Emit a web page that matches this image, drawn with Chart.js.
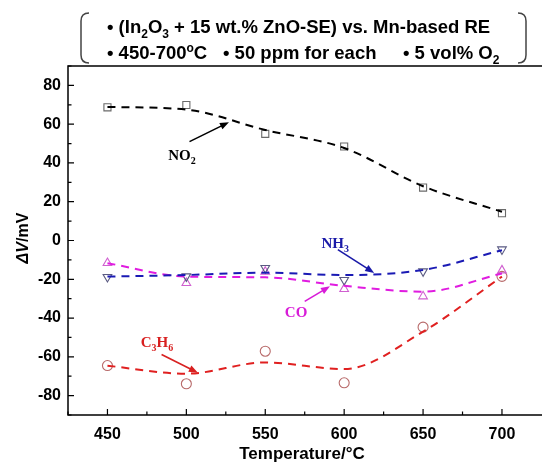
<!DOCTYPE html>
<html>
<head>
<meta charset="utf-8">
<script src="https://cdn.jsdelivr.net/npm/chart.js@4/dist/chart.umd.min.js"></script>
<style>
  html, body { margin: 0; padding: 0; background: #fff; }
</style>
</head>
<body>
<canvas id="chart" width="542" height="467"></canvas>
<script>
// measured points
const temps = [450, 500, 550, 600, 650, 700];
const no2Pts = [68.7, 69.9, 55.0, 48.5, 27.3, 14.1];
const nh3Pts = [-18.8, -18.5, -14.2, -20.4, -15.9, -4.6];
const coPts = [-11.6, -21.9, -16.1, -25.0, -28.8, -15.4];
const c3h6Pts = [-64.5, -73.9, -57.1, -73.4, -44.7, -18.5];

// dashed fit curves at each temperature
const no2Fit = [68.9, 67.5, 57.0, 47.7, 28.0, 14.8];
const nh3Fit = [-18.6, -17.8, -16.6, -17.8, -15.2, -5.0];
const coFit = [-11.7, -18.6, -19.0, -23.4, -26.4, -17.0];
const c3h6Fit = [-64.6, -68.7, -62.9, -66.3, -47.0, -18.6];

const xTicks = [450, 500, 550, 600, 650, 700];
const xMinor = [425, 475, 525, 575, 625, 675];
const yTicks = [-80, -60, -40, -20, 0, 20, 40, 60, 80];
const yMinor = [-90, -70, -50, -30, -10, 10, 30, 50, 70, 90];

// arrow labels, in data coordinates
const notes = [
  { parts: [['NO', 'n'], ['2', 'sub']], color: '#000000', text: [488.5, 41.6], from: [502, 51], to: [527, 61] },
  { parts: [['NH', 'n'], ['3', 'sub']], color: '#1a1aa8', text: [585.6, -3.7], from: [596, -4.7], to: [619, -16.7] },
  { parts: [['CO', 'n']], color: '#d81cd8', text: [562.4, -39.2], from: [575, -31.4], to: [591, -23.6] },
  { parts: [['C', 'n'], ['3', 'sub'], ['H', 'n'], ['6', 'sub']], color: '#d82020', text: [471.1, -54.7], from: [484.3, -58.8], to: [507.3, -68.2] },
];

const pts = (ys) => temps.map((x, i) => ({ x: x, y: ys[i] }));

function richText(ctx, parts, x, y, size, family, weight) {
  let cx = x;
  for (const [t, m] of parts) {
    const s = m === 'n' ? size : Math.round(size * 0.66);
    ctx.font = weight + ' ' + s + 'px ' + family;
    const dy = m === 'sub' ? size * 0.28 : (m === 'sup' ? -size * 0.38 : 0);
    ctx.fillText(t, cx, y + dy);
    cx += ctx.measureText(t).width;
  }
  return cx;
}

const framePlugin = {
  id: 'frame',
  beforeDraw(chart) {
    const ctx = chart.ctx;
    ctx.save();
    ctx.fillStyle = '#fff';
    ctx.fillRect(0, 0, chart.width, chart.height);
    ctx.restore();
  },
  afterDatasetsDraw(chart) {
    const { ctx, chartArea: a, scales: { x, y } } = chart;
    ctx.save();
    ctx.strokeStyle = '#000';
    ctx.lineWidth = 1.5;
    ctx.beginPath();
    ctx.moveTo(chart.width, a.top); ctx.lineTo(a.left, a.top);
    ctx.lineTo(a.left, a.bottom); ctx.lineTo(chart.width, a.bottom);
    ctx.stroke();
    ctx.lineWidth = 1.2;
    ctx.beginPath();
    xTicks.forEach(v => { const px = x.getPixelForValue(v); ctx.moveTo(px, a.bottom); ctx.lineTo(px, a.bottom - 6); });
    xMinor.forEach(v => { const px = x.getPixelForValue(v); ctx.moveTo(px, a.bottom); ctx.lineTo(px, a.bottom - 3.5); });
    yTicks.forEach(v => { const py = y.getPixelForValue(v); ctx.moveTo(a.left, py); ctx.lineTo(a.left + 6, py); });
    yMinor.forEach(v => { const py = y.getPixelForValue(v); ctx.moveTo(a.left, py); ctx.lineTo(a.left + 3.5, py); });
    ctx.stroke();

    // arrows and labels
    notes.forEach(n => {
      const x0 = x.getPixelForValue(n.from[0]), y0 = y.getPixelForValue(n.from[1]);
      const x1 = x.getPixelForValue(n.to[0]), y1 = y.getPixelForValue(n.to[1]);
      const ang = Math.atan2(y1 - y0, x1 - x0);
      ctx.strokeStyle = n.color;
      ctx.fillStyle = n.color;
      ctx.lineWidth = 1.6;
      ctx.beginPath();
      ctx.moveTo(x0, y0);
      ctx.lineTo(x1 - 6 * Math.cos(ang), y1 - 6 * Math.sin(ang));
      ctx.stroke();
      ctx.beginPath();
      ctx.moveTo(x1, y1);
      ctx.lineTo(x1 - 9 * Math.cos(ang) + 3.5 * Math.sin(ang), y1 - 9 * Math.sin(ang) - 3.5 * Math.cos(ang));
      ctx.lineTo(x1 - 9 * Math.cos(ang) - 3.5 * Math.sin(ang), y1 - 9 * Math.sin(ang) + 3.5 * Math.cos(ang));
      ctx.closePath();
      ctx.fill();
      ctx.textBaseline = 'alphabetic';
      ctx.textAlign = 'left';
      richText(ctx, n.parts, x.getPixelForValue(n.text[0]), y.getPixelForValue(n.text[1]), 15, '"Liberation Serif", serif', 'bold');
    });

    // y axis title
    ctx.save();
    ctx.translate(28, 238);
    ctx.rotate(-Math.PI / 2);
    ctx.fillStyle = '#000';
    ctx.textBaseline = 'alphabetic';
    const parts = [['ΔV', 'italic bold'], ['/mV', 'bold']];
    let w = 0;
    parts.forEach(p => { ctx.font = p[1] + ' 16px "Liberation Sans", Arial'; w += ctx.measureText(p[0]).width; });
    let cx = -w / 2;
    parts.forEach(p => { ctx.font = p[1] + ' 16px "Liberation Sans", Arial'; ctx.fillText(p[0], cx, 0); cx += ctx.measureText(p[0]).width; });
    ctx.restore();

    // header box
    ctx.strokeStyle = '#444';
    ctx.lineWidth = 1.5;
    ctx.beginPath();
    ctx.moveTo(89, 13); ctx.quadraticCurveTo(81, 13, 81, 21);
    ctx.lineTo(81, 55); ctx.quadraticCurveTo(81, 63, 89, 63);
    ctx.moveTo(518, 13); ctx.quadraticCurveTo(526, 13, 526, 21);
    ctx.lineTo(526, 55); ctx.quadraticCurveTo(526, 63, 518, 63);
    ctx.stroke();
    ctx.fillStyle = '#000';
    const fam = '"Liberation Sans", Arial', fs = 18.5;
    richText(ctx, [['• (In', 'n'], ['2', 'sub'], ['O', 'n'], ['3', 'sub'], [' + 15 wt.% ZnO-SE) vs. Mn-based RE', 'n']], 107, 33, fs, fam, 'bold');
    richText(ctx, [['• 450-700', 'n'], ['o', 'sup'], ['C', 'n']], 107, 59, fs, fam, 'bold');
    richText(ctx, [['• 50 ppm for each', 'n']], 223, 59, fs, fam, 'bold');
    richText(ctx, [['• 5 vol% O', 'n'], ['2', 'sub']], 403, 59, fs, fam, 'bold');
    ctx.restore();
  }
};

const fitLine = (ys, color) => ({
  type: 'line', data: pts(ys), borderColor: color, borderWidth: 2, borderDash: [8, 6],
  pointRadius: 0, cubicInterpolationMode: 'monotone', fill: false,
});
const marks = (ys, color, style, rot) => ({
  type: 'scatter', data: pts(ys), borderColor: color, backgroundColor: 'rgba(0,0,0,0)',
  pointStyle: style, pointRotation: rot || 0, pointRadius: 5, borderWidth: 1.1, showLine: false,
});

new Chart(document.getElementById('chart'), {
  data: {
    datasets: [
      fitLine(no2Fit, '#000000'),
      fitLine(nh3Fit, '#1a1ab4'),
      fitLine(coFit, '#e01ce0'),
      fitLine(c3h6Fit, '#e02020'),
      marks(no2Pts, '#6a6a6a', 'rect'),
      marks(nh3Pts, '#5a5a82', 'triangle', 180),
      marks(coPts, '#d060d0', 'triangle'),
      marks(c3h6Pts, '#b86a6a', 'circle'),
    ],
  },
  options: {
    responsive: false,
    animation: false,
    layout: { padding: { top: 66, left: 0, right: 0, bottom: 0 } },
    plugins: { legend: { display: false }, tooltip: { enabled: false } },
    scales: {
      x: {
        type: 'linear', min: 425, max: 721.5,
        afterBuildTicks: (s) => { s.ticks = xTicks.map(v => ({ value: v })); },
        afterFit: (s) => { s.height = 52; },
        grid: { display: false, drawTicks: false }, border: { display: false },
        ticks: { padding: 10, color: '#000', font: { family: '"Liberation Sans", Arial', size: 16, weight: 'bold' } },
        title: { display: true, text: 'Temperature/°C', color: '#000', padding: { top: 0, bottom: 2 },
                 font: { family: '"Liberation Sans", Arial', size: 17, weight: 'bold' } },
      },
      y: {
        type: 'linear', min: -90, max: 90,
        afterBuildTicks: (s) => { s.ticks = yTicks.map(v => ({ value: v })); },
        afterFit: (s) => { s.width = 68; },
        grid: { display: false, drawTicks: false }, border: { display: false },
        ticks: { padding: 7, color: '#000', font: { family: '"Liberation Sans", Arial', size: 16, weight: 'bold' } },
      },
    },
  },
  plugins: [framePlugin],
});
</script>
</body>
</html>
